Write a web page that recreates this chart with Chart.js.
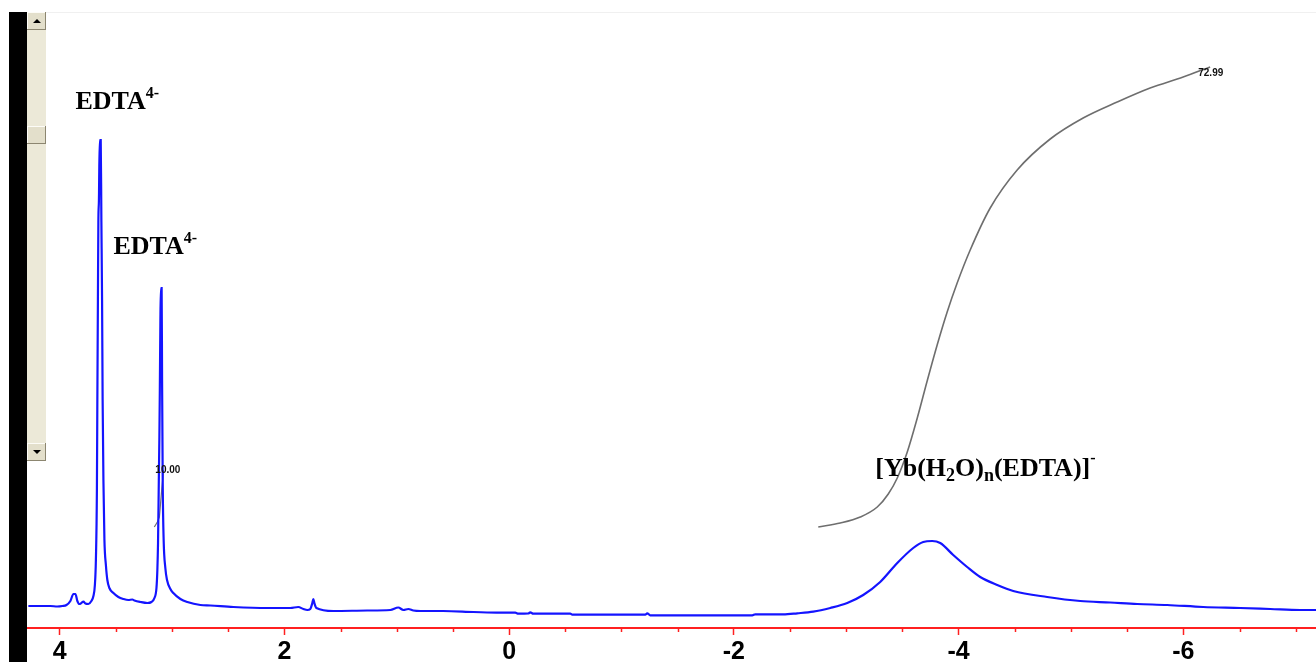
<!DOCTYPE html>
<html>
<head>
<meta charset="utf-8">
<script src="https://cdn.jsdelivr.net/npm/chart.js@4/dist/chart.umd.min.js"></script>
<style>
  html, body { margin: 0; padding: 0; background: #fff; }
  canvas { display: block; }
</style>
</head>
<body>
<canvas id="nmr" width="1316" height="662"></canvas>
<script>
// Спектр (ppm -> интенсивность)
const specPpm = [4.278, 4.171, 4.082, 4.020, 3.975, 3.939, 3.904, 3.877, 3.859, 3.842, 3.824, 3.806, 3.788, 3.770, 3.744,
  3.717, 3.699, 3.686, 3.677, 3.668, 3.664, 3.659, 3.655, 3.650, 3.643, 3.634, 3.628, 3.622, 3.617, 3.610, 3.601,
  3.588, 3.575, 3.557, 3.521, 3.477, 3.432, 3.388, 3.352, 3.334, 3.281, 3.219, 3.183, 3.156, 3.138, 3.130, 3.124,
  3.117, 3.112, 3.108, 3.103, 3.099, 3.092, 3.088, 3.082, 3.074, 3.059, 3.044, 3.014, 2.988, 2.925, 2.863, 2.747,
  2.658, 2.454, 2.151, 1.947, 1.876, 1.831, 1.796, 1.769, 1.751, 1.742, 1.733, 1.715, 1.564, 1.262, 1.057, 0.986,
  0.941, 0.897, 0.852, 0.790, 0.586, 0.318, 0.078, -0.055, -0.082, -0.171, -0.188, -0.215, -0.544, -0.562, -1.212,
  -1.229, -1.256, -1.701, -2.164, -2.190, -2.439, -2.564, -2.706, -2.858, -3.009, -3.151, -3.302, -3.454, -3.596,
  -3.685, -3.765, -3.836, -3.952, -4.076, -4.192, -4.343, -4.486, -4.788, -5.082, -5.349, -5.589, -5.856, -6.176,
  -6.506, -6.773, -7.040, -7.181];
const specInt = [22, 22, 22, 21.5, 22, 23, 27, 34, 34, 27, 24, 25, 26.5, 24.5, 24,
  27, 32, 43, 68, 138, 228, 328, 406, 428, 488, 488, 406, 328, 228, 148, 88,
  63, 48, 40, 35, 31, 29, 28, 28.5, 27.5, 26, 25, 26, 30, 40, 58, 85,
  148, 191, 238, 308, 340, 340, 248, 141, 88, 60, 48, 39, 35, 29, 26, 23,
  22.5, 21, 20, 20, 21, 19, 18, 19, 25, 29, 25, 20, 17, 17.5, 18, 20.5,
  18, 19, 17.5, 17, 17, 16, 15.3, 15.3, 14.3, 14.5, 15.7, 14.3, 14.3, 13.3, 13.3,
  14.7, 12.7, 12.7, 12.7, 13.7, 13.7, 14.7, 16.3, 20, 25, 33, 46, 65, 80,
  86, 87, 85, 73, 61, 51, 43, 37, 31, 27, 25.5, 24, 23, 21,
  20, 19, 18, 18];

// Интеграл широкого пика
const integPpm = [-2.751, -2.947, -3.125, -3.276, -3.374, -3.454, -3.543, -3.632, -3.720, -3.809, -3.898,
  -3.987, -4.103, -4.281, -4.521, -4.815, -5.108, -5.411, -5.704, -5.998, -6.238];
const integVal = [101, 105, 111, 121, 134, 150, 176, 210, 247, 283, 316,
  345, 378, 420, 458, 489, 510, 526, 540, 551, 561];

// Интеграл пика при 3.1 ppm
const integ2Ppm = [3.157, 3.130, 3.112, 3.099, 3.090, 3.081, 3.077];
const integ2Val = [101, 106, 111, 128, 140, 150, 158];

const integLabels = ['10.00', '72.99'];
const majorTicks = [4, 2, 0, -2, -4, -6];

const toXY = (xs, ys) => xs.map((x, i) => ({ x, y: ys[i] }));
const isMajor = v => majorTicks.some(m => Math.abs(m - v) < 1e-6);

const SERIF = '"Liberation Serif", "Times New Roman", serif';
const SANS  = '"Liberation Sans", Arial, sans-serif';

// текст с индексами: [текст, размер, сдвиг по y]
function drawRich(ctx, x, y, parts) {
  ctx.textBaseline = 'alphabetic';
  ctx.textAlign = 'left';
  ctx.fillStyle = '#000';
  parts.forEach(([t, size, dy]) => {
    ctx.font = `bold ${size}px ${SERIF}`;
    ctx.fillText(t, x, y + dy);
    x += ctx.measureText(t).width;
  });
}

const decor = {
  id: 'decor',
  beforeDraw(chart) {
    const ctx = chart.ctx;
    ctx.save();
    ctx.fillStyle = '#fff';
    ctx.fillRect(0, 0, chart.width, chart.height);
    ctx.fillStyle = '#f0f0f0';
    ctx.fillRect(27, 12, chart.width - 27, 1);
    ctx.restore();
  },
  afterDatasetsDraw(chart) {
    const ctx = chart.ctx;
    const xs = chart.scales.x, ys = chart.scales.y;
    ctx.save();

    // мелкие риски через 0.5 ppm
    ctx.strokeStyle = '#ff2020';
    ctx.lineWidth = 1.5;
    const bottom = chart.chartArea.bottom;
    xs.ticks.forEach(t => {
      if (isMajor(t.value)) return;
      const px = Math.round(xs.getPixelForValue(t.value)) + 0.5;
      ctx.beginPath();
      ctx.moveTo(px, bottom);
      ctx.lineTo(px, bottom + 4);
      ctx.stroke();
    });

    // подписи пиков
    const P = (ppm, v) => [xs.getPixelForValue(ppm), ys.getPixelForValue(v)];
    let [x, y] = P(3.859, 519);
    drawRich(ctx, x, y, [['EDTA', 26, 0], ['4-', 16, -11]]);
    [x, y] = P(3.521, 374);
    drawRich(ctx, x, y, [['EDTA', 26, 0], ['4-', 16, -11]]);
    [x, y] = P(-3.258, 152);
    drawRich(ctx, x, y, [['[Yb(H', 26, 0], ['2', 18, 5], ['O)', 26, 0], ['n', 18, 5], ['(EDTA)]', 26, 0], ['-', 16, -13]]);

    // значения интегралов
    ctx.font = `bold 10px ${SANS}`;
    ctx.fillStyle = '#111';
    ctx.textBaseline = 'middle';
    ctx.textAlign = 'left';
    [x, y] = P(3.148, 158);
    ctx.fillText(integLabels[0], x, y);
    [x, y] = P(-6.132, 555);
    ctx.fillText(integLabels[1], x, y);

    // чёрная полоса и полоса прокрутки слева
    ctx.fillStyle = '#000';
    ctx.fillRect(9, 12, 18, chart.height - 12);
    ctx.fillStyle = '#ece9d8';
    ctx.fillRect(27, 12, 19, 449);
    const btn = (top) => {
      ctx.fillStyle = '#e3dfcb';
      ctx.fillRect(27, top, 19, 18);
      ctx.fillStyle = '#fdfcf7';
      ctx.fillRect(27, top, 18, 1);
      ctx.fillRect(27, top, 1, 17);
      ctx.fillStyle = '#8c8670';
      ctx.fillRect(27, top + 17, 19, 1);
      ctx.fillRect(45, top, 1, 18);
    };
    btn(12); btn(126); btn(443);
    ctx.fillStyle = '#000';
    ctx.beginPath(); ctx.moveTo(33, 23); ctx.lineTo(41, 23); ctx.lineTo(37, 19); ctx.fill();
    ctx.beginPath(); ctx.moveTo(33, 450); ctx.lineTo(41, 450); ctx.lineTo(37, 454); ctx.fill();
    ctx.restore();
  }
};

new Chart(document.getElementById('nmr'), {
  type: 'line',
  data: {
    datasets: [
      { data: toXY(specPpm, specInt), borderColor: '#1414ff', borderWidth: 2.2, pointRadius: 0, cubicInterpolationMode: 'monotone' },
      { data: toXY(integPpm, integVal), borderColor: '#6e6e6e', borderWidth: 1.6, pointRadius: 0, cubicInterpolationMode: 'monotone' },
      { data: toXY(integ2Ppm, integ2Val), borderColor: '#707070', borderWidth: 1.2, pointRadius: 0, tension: 0 }
    ]
  },
  options: {
    responsive: false,
    devicePixelRatio: 1,
    animation: false,
    layout: { padding: { left: 27, right: 0, top: 0, bottom: 0 } },
    plugins: { legend: { display: false }, tooltip: { enabled: false } },
    scales: {
      x: {
        type: 'linear',
        reverse: true,
        min: -7.18,
        max: 4.29,
        afterFit: s => { s.height = 34; },
        border: { display: true, color: '#ff2020', width: 2 },
        grid: {
          drawOnChartArea: false,
          drawTicks: true,
          tickLength: 7,
          tickWidth: 1.5,
          tickColor: c => (c.tick && isMajor(c.tick.value)) ? '#ff2020' : 'rgba(0,0,0,0)'
        },
        ticks: {
          stepSize: 0.5,
          includeBounds: false,
          autoSkip: false,
          maxRotation: 0,
          padding: 2,
          color: '#000',
          font: { family: SANS, size: 25, weight: 'bold' },
          callback: v => isMajor(v) ? String(Math.round(v)) : ''
        }
      },
      y: { display: false, min: 0, max: 628 }
    }
  },
  plugins: [decor]
});
</script>
</body>
</html>
